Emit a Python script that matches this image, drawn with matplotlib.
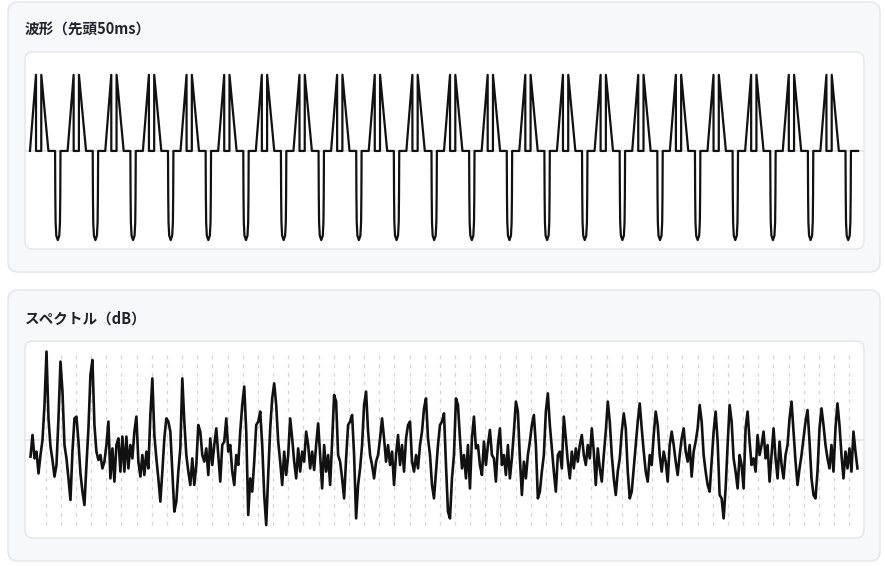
import numpy as np
import matplotlib
matplotlib.use('Agg')
import matplotlib.pyplot as plt
from matplotlib.patches import FancyBboxPatch

plt.rcParams['font.family'] = ['Noto Sans CJK JP', 'DejaVu Sans']

# --- データ ---
title_wave = '波形（先頭50ms）'
title_spec = 'スペクトル（dB）'

wave_freq = 440          # Hz
wave_ms = 50             # 先頭50ms
# 1周期分の折れ線（位相, 振幅）
wave_phase = [0.000, 0.160, 0.161, 0.300, 0.301, 0.490, 0.667, 0.673, 0.681,
              0.699, 0.739, 0.779, 0.797, 0.805, 0.811]
wave_amp = [0.0, 0.854, 0.0, 0.0, 0.854, 0.0, 0.0, -0.5, -0.8,
            -0.95, -1.0, -0.95, -0.8, -0.5, 0.0]

spec_fmax = 24000        # Hz
spec_db_1 = [-53.3, -42.5, -54.2, -50.8, -61.7, -52.5, -45.0, -27.5, -0.8, -34.2,
             -48.3, -55.0, -63.3, -57.5, -34.2, -5.8, -20.8, -47.5, -54.2, -64.2,
             -75.0, -50.8, -34.2, -33.3, -45.8, -61.7, -70.8, -77.5, -57.5, -39.2,
             -12.5, -5.0, -37.5, -50.8, -55.0, -52.5, -59.2, -55.8, -47.5, -35.8,
             -64.2, -49.2, -65.8, -47.5, -44.2, -60.8, -43.3, -60.8, -43.3, -59.2,
             -47.5, -54.2, -40.8, -33.3, -55.8, -63.3, -52.5, -62.5, -50.8, -59.2,
             -32.5, -14.2, -42.5, -54.2, -64.2, -75.8, -60.8, -44.2, -34.2, -35.8]
spec_db_2 = [-40.8, -60.8, -80.8, -75.8, -60.8, -49.2, -14.2, -35.8, -52.5, -60.8,
             -67.5, -54.2, -67.5, -57.5, -37.5, -40.8, -52.5, -55.8, -49.2, -62.5,
             -44.2, -57.5, -47.5, -39.2, -52.5, -65.8, -47.5, -45.8, -34.2, -50.8,
             -47.5, -60.8, -67.5, -52.5, -57.5, -40.8, -27.5, -18.3, -40.8, -82.5,
             -64.2, -70.8, -55.8, -37.5, -35.8, -30.8, -47.5, -72.5, -87.5, -62.5,
             -39.2, -24.2, -16.7, -27.5, -45.8, -55.8, -67.5, -50.8, -62.5, -52.5,
             -34.2, -44.2, -55.8, -64.2, -49.2, -60.8, -50.8, -55.8, -40.8]
spec_db_3 = [-47.5, -59.2, -50.8, -60.0, -47.5, -36.7, -52.5, -69.2, -47.5, -60.8,
             -52.5, -67.5, -45.8, -22.5, -25.8, -52.5, -55.8, -64.2, -74.2, -54.2,
             -37.5, -35.8, -32.5, -52.5, -84.2, -67.5, -59.2, -47.5, -27.5, -20.8,
             -40.8, -52.5, -57.5, -64.2, -55.8, -52.5, -44.2, -34.2, -44.2, -55.8,
             -47.5, -57.5, -50.8, -67.5, -52.5, -42.5, -57.5, -47.5, -60.8, -44.2,
             -37.5, -35.8, -55.8, -60.8, -52.5, -59.2, -47.5, -40.8, -29.2, -24.2,
             -44.2, -52.5, -67.5, -74.2, -60.8, -47.5, -37.5, -35.8, -31.7]
spec_db_4 = [-57.5, -80.8, -84.2, -64.2, -52.5, -24.2, -27.5, -44.2, -59.2, -52.5,
             -64.2, -47.5, -69.2, -44.2, -33.3, -49.2, -47.5, -57.5, -62.5, -45.8,
             -57.5, -47.5, -40.0, -52.5, -54.2, -65.8, -47.5, -39.2, -57.5, -52.5,
             -62.5, -47.5, -64.2, -54.2, -40.8, -25.8, -30.8, -54.2, -72.5, -55.8,
             -64.2, -52.5, -45.8, -37.5, -32.5, -47.5, -74.2, -70.8, -60.8, -52.5,
             -30.8, -21.7, -37.5, -49.2, -60.8, -70.8, -52.5, -50.8, -59.2, -33.3,
             -44.2, -55.8, -64.2, -50.8, -59.2, -49.2, -55.8, -47.5, -42.5]
spec_db_5 = [-52.5, -57.5, -47.5, -54.2, -39.2, -50.8, -67.5, -49.2, -59.2, -65.8,
             -52.5, -40.8, -25.8, -35.8, -52.5, -64.2, -72.5, -60.8, -54.2, -40.8,
             -31.7, -39.2, -60.8, -74.2, -70.8, -59.2, -47.5, -35.8, -26.7, -39.2,
             -50.8, -60.8, -65.8, -52.5, -57.5, -42.5, -30.8, -37.5, -52.5, -60.8,
             -50.8, -55.8, -65.8, -47.5, -40.8, -47.5, -55.8, -62.5, -52.5, -44.2,
             -39.2, -50.8, -55.8, -47.5, -63.3, -50.8, -45.8, -39.2, -27.5, -35.8,
             -52.5, -60.8, -67.5, -70.8, -55.8, -40.8, -30.8, -45.8, -72.5]
spec_db_6 = [-74.2, -84.2, -69.2, -47.5, -27.5, -35.8, -54.2, -60.8, -69.2, -52.5,
             -57.5, -69.2, -39.2, -30.8, -45.8, -57.5, -54.2, -60.8, -42.5, -52.5,
             -47.5, -40.8, -54.2, -47.5, -65.8, -52.5, -39.2, -54.2, -64.2, -45.8,
             -57.5, -64.2, -52.5, -47.5, -34.2, -25.8, -40.8, -55.8, -67.5, -59.2,
             -52.5, -44.2, -35.8, -30.0, -45.8, -64.2, -72.5, -74.2, -60.8, -39.2,
             -29.2, -37.5, -47.5, -54.2, -59.2, -47.5, -60.8, -39.2, -26.7, -37.5,
             -52.5, -64.2, -50.8, -59.2, -49.2, -60.8, -40.8, -50.8, -59.2]

# --- 波形を組み立て ---
n_periods = int(round(wave_freq * wave_ms / 1000))
t = (np.arange(n_periods)[:, None] + np.array(wave_phase)[None, :]) / wave_freq * 1000
t = np.append(t.ravel(), wave_ms)
y = np.append(np.tile(wave_amp, n_periods), 0.0)

spec = np.concatenate([spec_db_1, spec_db_2, spec_db_3, spec_db_4, spec_db_5, spec_db_6])
freq = np.linspace(0, spec_fmax, len(spec))
harmonics = np.arange(wave_freq, spec_fmax, wave_freq)

W, H = 885, 566
fig = plt.figure(figsize=(W / 100, H / 100), dpi=100)
fig.patch.set_facecolor('white')

# 背景（カード）
bg = fig.add_axes([0, 0, 1, 1])
bg.set_xlim(0, W)
bg.set_ylim(H, 0)
bg.axis('off')
for top, h in [(2, 270), (290, 271)]:
    bg.add_patch(FancyBboxPatch((8, top), 872, h, boxstyle='round,pad=0,rounding_size=10',
                                fc='#f7f8fa', ec='#e2e4e9', lw=1))
for top in [52, 341]:
    bg.add_patch(FancyBboxPatch((25, top), 839, 197, boxstyle='round,pad=0,rounding_size=8',
                                fc='white', ec='#e3e5ea', lw=1))
bg.text(25, 30, title_wave, fontsize=10.5, fontweight='bold', color='#1f2329', va='center')
bg.text(25, 319, title_spec, fontsize=10.5, fontweight='bold', color='#1f2329', va='center')


def panel(top):
    ax = fig.add_axes([25 / W, 1 - (top + 197) / H, 839 / W, 197 / H])
    ax.patch.set_alpha(0)
    ax.axis('off')
    return ax


# 波形
ax1 = panel(52)
ax1.axhline(0, color='#e2e3e8', lw=1.2, zorder=1)
ax1.plot(t, y, color='#111111', lw=1.6, zorder=2)
ax1.set_xlim(-0.30, 50.36)
ax1.set_ylim(-1.10, 1.11)

# スペクトル
ax2 = panel(341)
ax2.vlines(harmonics, spec.min(), spec.max(), colors='#d6d6d6', lw=0.9,
           linestyles=(0, (3, 4)), zorder=1)
ax2.axhline(-45, color='#e2e3e8', lw=1.2, zorder=1)
ax2.plot(freq, spec, color='#111111', lw=1.9, zorder=2)
ax2.set_xlim(-160, 24190)
ax2.set_ylim(-94, 4.5)

fig.savefig('out.png', dpi=100)
